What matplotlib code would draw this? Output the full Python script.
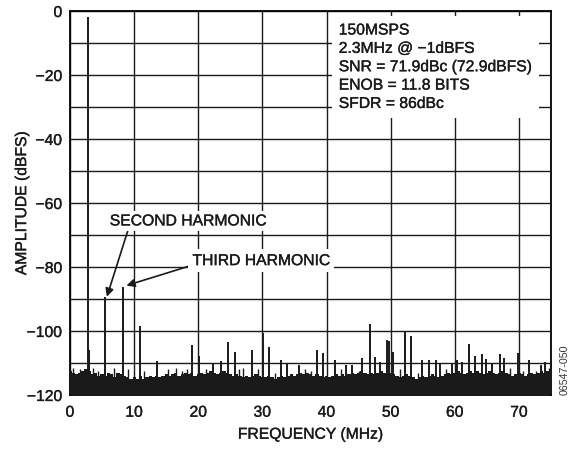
import numpy as np
import matplotlib
matplotlib.use('Agg')
import matplotlib.pyplot as plt
import matplotlib.patheffects as pe

plt.rcParams['font.family'] = ['Liberation Sans', 'DejaVu Sans']

# Tono fundamental (MHz, dBFS)
fund_mhz = 2.75
fund_db = -2.0

# Espurios y armónicos
spur_mhz = [2.9, 5.5, 8.25, 10.9, 13.6, 19.1, 20.1, 22.3, 23.6, 24.7, 25.7, 28.4,
            30.1, 31.1, 32.9, 33.9, 35.7, 38.5, 39.4, 41.3, 43.1, 44.0, 45.6, 46.8,
            47.6, 48.4, 49.4, 49.7, 50.4, 52.2, 53.1, 54.9, 55.9, 57.0, 57.7, 59.6,
            60.4, 61.1, 62.2, 63.2, 64.2, 64.9, 65.8, 67.0, 67.7, 69.8, 71.6, 73.4,
            74.1]
spur_db = [-106.0, -89.5, -86.1, -98.4, -109.3, -104.4, -107.7, -110.0, -109.5, -103.5, -106.5, -106.0,
           -100.6, -105.0, -109.0, -110.4, -110.6, -106.0, -107.0, -109.2, -110.6, -110.6, -108.3, -97.9,
           -108.0, -109.7, -102.7, -103.0, -106.5, -100.2, -101.7, -109.2, -109.2, -109.2, -110.3, -110.3,
           -109.0, -109.7, -104.1, -107.7, -107.2, -108.8, -110.3, -107.2, -108.3, -106.9, -109.2, -110.6,
           -109.7]

# Pequeños picos del piso de ruido
grass_mhz = [0.5, 1.5, 3.6, 4.4, 6.9, 9.0, 11.5, 15.3, 16.6, 17.5, 18.3, 21.2, 26.3, 27.0,
             29.3, 32.0, 36.7, 37.6, 42.3, 45.0, 51.4, 54.2, 58.6, 68.6, 70.6, 72.6, 74.7]
grass_db = [-111.5, -112.0, -111.5, -112.5, -111.5, -112.0, -112.5, -112.0, -111.6, -112.5, -112.0, -112.0, -111.8, -111.5,
            -112.0, -113.0, -112.0, -112.5, -112.0, -112.5, -112.0, -113.0, -112.0, -111.5, -112.5, -112.5, -111.5]

# Piso de ruido cada 0.5 MHz (0 a 75 MHz)
floor_db = [-112.5, -113, -113.5, -113, -112.5, -112, -112.5, -113.5, -113, -114, -113.5,
            -114, -113, -113.5, -114.5, -113, -113.5, -114, -114.5, -115, -114.5,
            -115, -114, -115, -114.5, -114, -114.5, -114, -114.5, -114, -113.5,
            -114, -113.5, -113, -114, -113.5, -113, -113.5, -113, -114, -113.5,
            -113, -113.5, -113, -112.5, -113, -113.5, -113, -112.5, -113, -113.5,
            -114, -113.5, -114, -114.5, -114, -114.5, -114, -113.5, -114, -114.5,
            -114.5, -114, -114.5, -115, -114.5, -114, -114.5, -114, -113.5, -114,
            -113.5, -113, -113.5, -113, -113.5, -114, -113.5, -114, -114.5, -114,
            -114.5, -114, -113.5, -114, -113.5, -114, -113.5, -113, -113.5, -113,
            -112.5, -113, -113.5, -113, -113.5, -113, -112.5, -113, -113.5, -113,
            -113.5, -114, -114.5, -114, -113.5, -114, -114.5, -115, -114.5, -114,
            -114.5, -114, -113.5, -114, -114.5, -114, -113.5, -113, -113.5, -113,
            -112.5, -113, -113.5, -113, -112.5, -113, -112.5, -113, -113.5, -113,
            -112.5, -113, -113.5, -113, -112.5, -113, -113.5, -114, -113.5, -113,
            -113.5, -114, -113.5, -113, -113.5, -113, -112.5, -113, -112.5, -113]
floor_mhz = np.arange(len(floor_db)) * 0.5

info = "150MSPS\n2.3MHz @ \u22121dBFS\nSNR = 71.9dBc (72.9dBFS)\nENOB = 11.8 BITS\nSFDR = 86dBc"

fs = 11.3
# trazo fino para engrosar un poco las letras
thick = [pe.withStroke(linewidth=0.25, foreground='#1a1a1a')]

fig = plt.figure(figsize=(5.7, 4.52), dpi=100)
ax = fig.add_axes([0.1228, 0.1239, 0.8439, 0.8496])

ax.fill_between(floor_mhz, floor_db, -120, step='mid', color='#1a1a1a', lw=0, zorder=3)
ax.vlines(grass_mhz, -120, grass_db, color='#1a1a1a', lw=1.0, zorder=3)
ax.vlines(spur_mhz, -120, spur_db, color='#1a1a1a', lw=1.4, zorder=3)
ax.vlines([fund_mhz], -120, [fund_db], color='#1a1a1a', lw=1.4, zorder=3)

ax.set_xlim(0, 75)
ax.set_ylim(-120, 0)
ax.set_xticks(np.arange(0, 71, 10))
ax.set_yticks(np.arange(-120, 1, 20))
ax.set_yticks(np.arange(-110, 0, 20), minor=True)
ax.grid(True, which='both', color='#1a1a1a', lw=1.0)
ax.set_axisbelow(True)
ax.tick_params(which='both', length=0, labelsize=fs, labelcolor='#1a1a1a')
ax.tick_params(axis='x', pad=7)
ax.tick_params(axis='y', pad=5.5)
for s in ax.spines.values():
    s.set_linewidth(1.3)
for lbl in ax.get_xticklabels() + ax.get_yticklabels():
    lbl.set_path_effects(thick)

ax.set_xlabel('FREQUENCY (MHz)', fontsize=fs, labelpad=5, color='#1a1a1a', path_effects=thick)
ax.set_ylabel('AMPLITUDE (dBFS)', fontsize=fs, color='#1a1a1a', path_effects=thick)
ax.yaxis.set_label_coords(-0.085, 0.5)

ax.text(41.9, -3.6, info, fontsize=fs, va='top', ha='left', linespacing=1.28, zorder=5,
        color='#1a1a1a', path_effects=thick,
        bbox=dict(facecolor='white', edgecolor='none', pad=5))

ax.annotate('SECOND HARMONIC', xy=(5.75, -89.3), xytext=(6.2, -65.6), fontsize=fs,
            va='center', ha='left', zorder=5, color='#1a1a1a', path_effects=thick,
            bbox=dict(facecolor='white', edgecolor='none', pad=2),
            arrowprops=dict(arrowstyle='-|>', color='#1a1a1a', lw=1.2, mutation_scale=12,
                            shrinkA=0, shrinkB=0, relpos=(0.12, 0.0)))
ax.annotate('THIRD HARMONIC', xy=(8.8, -85.8), xytext=(19.1, -78.0), fontsize=fs,
            va='center', ha='left', zorder=5, color='#1a1a1a', path_effects=thick,
            bbox=dict(facecolor='white', edgecolor='none', pad=3),
            arrowprops=dict(arrowstyle='-|>', color='#1a1a1a', lw=1.2, mutation_scale=12,
                            shrinkA=0, shrinkB=0, relpos=(0.0, 0.2)))

fig.text(0.991, 0.181, '06547-050', rotation=90, fontsize=7.7, ha='center', va='center', color='#333333')

fig.savefig('out.png', dpi=100)
